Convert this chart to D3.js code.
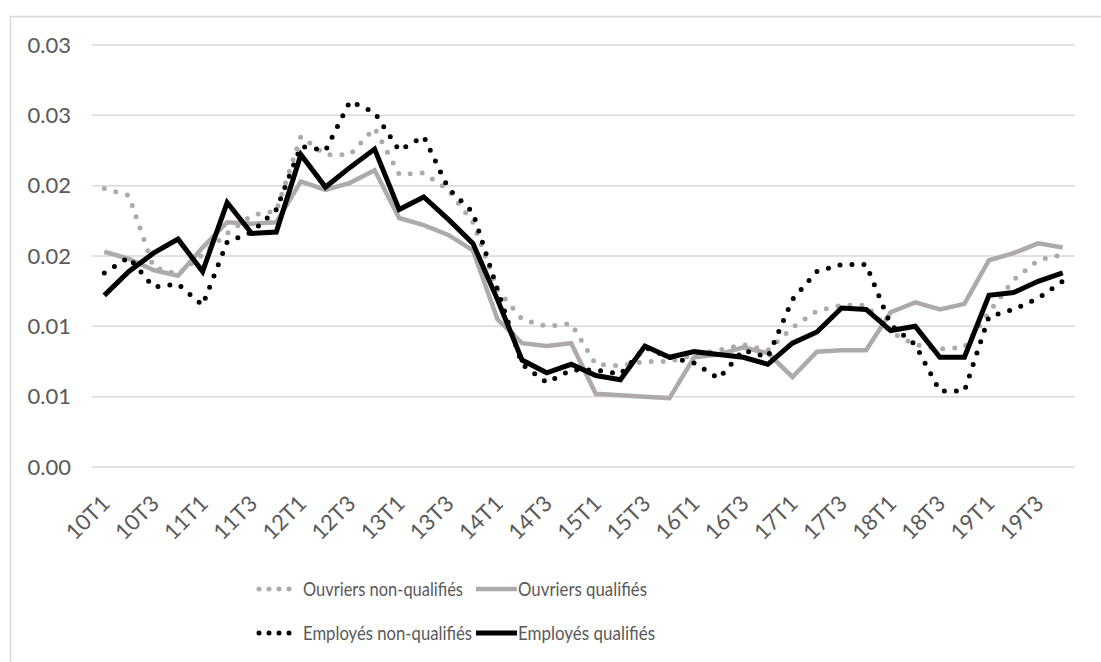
<!DOCTYPE html>
<html>
<head>
<meta charset="utf-8">
<script src="https://cdn.jsdelivr.net/npm/d3@7"></script>
<style>
  body { margin: 0; background: #fff; }
  svg text { font-family: Lato, "Open Sans", sans-serif; fill: #595959; }
</style>
</head>
<body>
<script>
let quarters = [
  '10T1', '10T2', '10T3', '10T4', '11T1', '11T2', '11T3', '11T4',
  '12T1', '12T2', '12T3', '12T4', '13T1', '13T2', '13T3', '13T4',
  '14T1', '14T2', '14T3', '14T4', '15T1', '15T2', '15T3', '15T4',
  '16T1', '16T2', '16T3', '16T4', '17T1', '17T2', '17T3', '17T4',
  '18T1', '18T2', '18T3', '18T4', '19T1', '19T2', '19T3', '19T4'
]

// values
let ouvriersNonQualifies = [
  0.0198, 0.0193, 0.0142, 0.0137, 0.0151, 0.0166, 0.0179, 0.0182,
  0.0235, 0.0222, 0.0222, 0.0241, 0.0208, 0.0209, 0.0197, 0.0174,
  0.0126, 0.0105, 0.0100, 0.0102, 0.0073, 0.0072, 0.0075, 0.0075,
  0.0080, 0.0083, 0.0087, 0.0083, 0.0099, 0.0111, 0.0115, 0.0115,
  0.0096, 0.0087, 0.0084, 0.0085, 0.0110, 0.0133, 0.0147, 0.0151
]
let ouvriersQualifies = [
  0.0153, 0.0148, 0.0140, 0.0136, 0.0156, 0.0174, 0.0173, 0.0174,
  0.0203, 0.0197, 0.0202, 0.0211, 0.0177, 0.0172, 0.0165, 0.0154,
  0.0105, 0.0088, 0.0086, 0.0088, 0.0052, 0.0051, 0.0050, 0.0049,
  0.0078, 0.0080, 0.0085, 0.0081, 0.0064, 0.0082, 0.0083, 0.0083,
  0.0110, 0.0117, 0.0112, 0.0116, 0.0147, 0.0152, 0.0159, 0.0156
]
let employesNonQualifies = [
  0.0138, 0.0149, 0.0128, 0.0130, 0.0115, 0.0160, 0.0167, 0.0183,
  0.0228, 0.0225, 0.0260, 0.0252, 0.0225, 0.0235, 0.0198, 0.0181,
  0.0126, 0.0073, 0.0060, 0.0069, 0.0069, 0.0066, 0.0085, 0.0078,
  0.0074, 0.0063, 0.0083, 0.0078, 0.0119, 0.0139, 0.0144, 0.0144,
  0.0101, 0.0087, 0.0054, 0.0054, 0.0107, 0.0112, 0.0120, 0.0132
]
let employesQualifies = [
  0.0122, 0.0139, 0.0152, 0.0162, 0.0139, 0.0188, 0.0166, 0.0167,
  0.0222, 0.0199, 0.0213, 0.0226, 0.0183, 0.0192, 0.0176, 0.0159,
  0.0119, 0.0076, 0.0067, 0.0073, 0.0065, 0.0062, 0.0086, 0.0078,
  0.0082, 0.0080, 0.0078, 0.0073, 0.0088, 0.0096, 0.0113, 0.0112,
  0.0097, 0.0100, 0.0078, 0.0078, 0.0122, 0.0124, 0.0132, 0.0138
]

let seriesNames = ['Ouvriers non-qualifiés', 'Ouvriers qualifiés', 'Employés non-qualifiés', 'Employés qualifiés']
let yTickValues = [0, 0.005, 0.01, 0.015, 0.02, 0.025, 0.03]
let yTickLabels = ['0.00', '0.01', '0.01', '0.02', '0.02', '0.03', '0.03']

let series = [
  { name: seriesNames[0], values: ouvriersNonQualifies, color: '#AEAAAA', width: 5, dash: '0,12' },
  { name: seriesNames[1], values: ouvriersQualifies, color: '#AEAAAA', width: 4.5, dash: null },
  { name: seriesNames[2], values: employesNonQualifies, color: '#000000', width: 5, dash: '0,12' },
  { name: seriesNames[3], values: employesQualifies, color: '#000000', width: 5, dash: null }
]

let width = 1101
let height = 662

let svg = d3.select('body').append('svg')
  .attr('width', width)
  .attr('height', height)

// chart area border (cropped on the right and bottom)
svg.append('rect')
  .attr('x', 10.5)
  .attr('y', 16.5)
  .attr('width', 1200)
  .attr('height', 700)
  .style('fill', 'none')
  .style('stroke', '#D9D9D9')
  .style('stroke-width', 1.5)

let x = d3.scaleBand().domain(quarters).range([92, 1075]).padding(0)
let y = d3.scaleLinear().domain([0, 0.03]).range([467, 45])
let cx = q => x(q) + x.bandwidth() / 2

// gridlines + y labels
let yAxis = svg.append('g')
yAxis.selectAll('line')
  .data(yTickValues)
  .enter().append('line')
  .attr('x1', 92)
  .attr('x2', 1075)
  .attr('y1', d => y(d))
  .attr('y2', d => y(d))
  .style('stroke', '#D9D9D9')
  .style('stroke-width', 1.5)

yAxis.selectAll('text')
  .data(yTickValues)
  .enter().append('text')
  .attr('x', 71)
  .attr('y', d => y(d))
  .attr('dy', '0.35em')
  .attr('text-anchor', 'end')
  .style('font-size', '22px')
  .text((d, i) => yTickLabels[i])

// x labels, every other quarter
svg.append('g').selectAll('text')
  .data(quarters.filter((q, i) => i % 2 === 0))
  .enter().append('text')
  .attr('text-anchor', 'end')
  .attr('transform', q => 'translate(' + (cx(q) + 7) + ',' + 505 + ') rotate(-45)')
  .style('font-size', '22px')
  .text(q => q)

// lines
let line = d3.line()
  .x((d, i) => cx(quarters[i]))
  .y(d => y(d))

svg.append('g').selectAll('path')
  .data(series)
  .enter().append('path')
  .attr('d', s => line(s.values))
  .style('fill', 'none')
  .style('stroke', s => s.color)
  .style('stroke-width', s => s.width)
  .style('stroke-dasharray', s => s.dash)
  .style('stroke-linecap', s => s.dash ? 'round' : 'butt')
  .style('stroke-linejoin', 'miter')

// legend (text squeezed to the narrow widths of the original font)
let legendPos = [
  { x: 258, y: 589, textX: 45, textW: 160 },
  { x: 476, y: 589, textX: 42, textW: 129 },
  { x: 258, y: 633, textX: 45, textW: 169 },
  { x: 476, y: 633, textX: 42, textW: 137 }
]
let legend = svg.append('g').selectAll('g')
  .data(series)
  .enter().append('g')
  .attr('transform', (s, i) => 'translate(' + legendPos[i].x + ',' + legendPos[i].y + ')')

legend.append('line')
  .attr('x1', s => s.dash ? 1 : 0)
  .attr('x2', s => s.dash ? 32 : 41)
  .attr('y1', 0)
  .attr('y2', 0)
  .style('stroke', s => s.color)
  .style('stroke-width', s => s.width)
  .style('stroke-dasharray', s => s.dash ? '0,10' : null)
  .style('stroke-linecap', s => s.dash ? 'round' : 'butt')

legend.append('text')
  .attr('x', (s, i) => legendPos[i].textX)
  .attr('y', 0)
  .attr('dy', '0.35em')
  .attr('textLength', (s, i) => legendPos[i].textW)
  .attr('lengthAdjust', 'spacingAndGlyphs')
  .style('font-size', '20px')
  .text(s => s.name)
</script>
</body>
</html>
